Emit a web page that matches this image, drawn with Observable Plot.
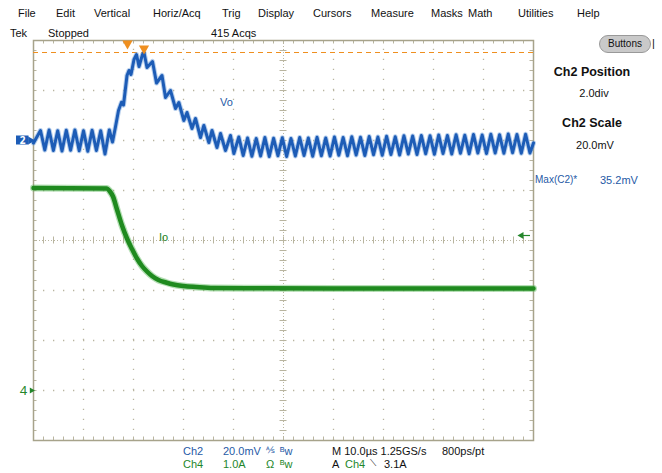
<!DOCTYPE html>
<html>
<head>
<meta charset="utf-8">
<script src="https://cdn.jsdelivr.net/npm/d3@7"></script>
<script src="https://cdn.jsdelivr.net/npm/@observablehq/plot@0.6"></script>
<style>
  html, body { margin: 0; padding: 0; background: #fff; }
  #wrap { position: relative; width: 662px; height: 473px; overflow: hidden; background: #fff;
          font-family: "Liberation Sans", Arial, sans-serif; font-size: 11px; color: #111; }
  #wrap svg { position: absolute; left: 0; top: 0; }
  .t { position: absolute; white-space: nowrap; line-height: 1; }
  .b { font-weight: bold; font-size: 12.5px; }
  .c { transform: translateX(-50%); }
  .blue { color: #1f5aa6; }
  .green { color: #23862a; }
  #btn { position: absolute; left: 599px; top: 35px; width: 50px; height: 16px; border-radius: 9px;
         background: #c9c9c9; border: 1px solid #999; font-size: 10px; text-align: center; line-height: 16px; }
</style>
</head>
<body>
<div id="wrap"></div>
<script>
// ---- Scope settings ----
const timePerDiv = 10;          // µs/div
const ch2Scale = 20;            // mV/div
const ch2Position = 2.0;        // div
const ch4Scale = 1.0;           // A/div
const ch4Position = -3.0;       // div
const triggerLevel = 3.1;       // A (Ch4, falling)
const triggerTime = 18.8;       // µs from left edge
const maxC2 = 35.2;             // mV
const maxC2Time = 22.1;         // µs

// ---- Ch2 Vo (mV) ----
const voTime = [0.0,1.4,2.26,3.12,3.98,4.84,5.7,6.56,7.42,8.28,9.14,10.0,10.86,11.72,12.58,13.44,14.3,15.16,15.8,
  16.4,17.0,17.6,18.0,18.7,19.1,19.5,20.1,20.6,21.1,21.8,22.1,22.7,23.8,24.6,25.7,26.4,27.4,28.4,29.07,30.07,30.7,
  31.7,32.4,33.4,34.07,35.07,35.7,36.7,37.4,38.4,39.4,40.07,41.07,
  41.94,42.81,43.68,44.55,45.42,46.28,47.15,48.02,48.89,49.76,50.63,51.5,52.37,53.24,54.11,54.97,55.84,56.71,57.58,
  58.45,59.32,60.19,61.06,61.93,62.8,63.66,64.53,65.4,66.27,67.14,68.01,68.88,69.75,70.62,71.49,72.35,73.22,74.09,
  74.96,75.83,76.7,77.57,78.44,79.31,80.18,81.04,81.91,82.78,83.65,84.52,85.39,86.26,87.13,88.0,88.87,89.73,90.6,
  91.47,92.34,93.21,94.08,94.95,95.82,96.69,97.56,98.42,99.29,100.0];
const voValue = [-1.0,4.0,-3.8,4.2,-4.0,3.9,-4.2,4.1,-3.9,4.2,-4.1,3.9,-4.3,4.1,-4.0,3.9,-5.4,4.2,-0.6,
  5.5,12.0,15.3,14.2,26.0,28.0,26.4,32.4,34.4,29.6,34.4,35.2,29.2,31.6,23.0,26.0,17.2,20.0,12.8,15.2,8.0,11.2,
  4.8,8.8,1.2,6.0,-0.8,4.0,-2.8,2.8,-4.0,2.0,-5.2,1.4,
  -6.0,1.0,-6.3,0.8,-6.2,1.2,-6.4,0.9,-6.1,1.1,-6.4,0.8,-6.2,1.2,-6.0,1.0,-6.3,1.3,-6.1,
  1.0,-6.2,1.4,-5.9,1.2,-6.1,1.5,-5.8,1.3,-6.0,1.6,-5.7,1.4,-5.9,1.7,-5.6,1.5,-5.8,1.9,
  -5.4,1.8,-5.6,2.0,-5.3,1.9,-5.5,2.2,-5.2,2.0,-5.4,2.3,-5.1,2.1,-5.3,2.4,-5.0,2.2,-5.2,
  2.5,-5.0,2.3,-5.1,2.6,-4.9,2.4,-5.1,2.5,-5.0,-1.0];

// ---- Ch4 Io (A) ----
const ioTime  = [0,14.6,15.3,15.9,16.7,17.7,18.7,19.7,20.7,21.7,22.7,23.7,25.0,26.5,28.0,30.0,32.5,36.0,45,60,80,100];
const ioValue = [4.05,4.04,3.98,3.88,3.62,3.30,3.04,2.83,2.64,2.49,2.38,2.29,2.21,2.16,2.12,2.09,2.07,2.05,2.045,2.04,2.04,2.04];

// ---- trace labels ----
const labelText = ["Vo", "Io"];
const labelTime = [38.6, 26.0];
const labelDiv  = [2.76, 0.06];

const ch2Div = mv => mv / ch2Scale + ch2Position;
const ch4Div = a => a / ch4Scale + ch4Position;
const vo = voTime.map((t, i) => ({t: t, v: ch2Div(voValue[i])}));
const io = ioTime.map((t, i) => ({t: t, v: ch4Div(ioValue[i])}));
const labels = labelText.map((s, i) => ({s, t: labelTime[i], v: labelDiv[i], c: i === 0 ? "#1f5aa6" : "#23862a"}));

const span = timePerDiv * 10;
const majorX = d3.range(timePerDiv, span, timePerDiv).filter(d => d !== span / 2);
const majorY = [-3, -2, -1, 1, 2, 3];
const minorX = d3.range(2, span, 2);
const minorY = d3.range(-19, 20).map(d => d / 5).filter(d => Math.abs(d) < 4);
const grid = "#b9b5a0";
const orange = "#ef8f1f";

const chart = Plot.plot({
  width: 662, height: 473,
  marginLeft: 33, marginRight: 129, marginTop: 40, marginBottom: 33,
  x: {domain: [0, span], axis: null},
  y: {domain: [-4, 4], axis: null},
  style: {background: "transparent", overflow: "visible"},
  marks: [
    Plot.ruleX(majorX, {y1: -4, y2: 4, stroke: grid, strokeWidth: 1.3, strokeDasharray: "1.3,8.7"}),
    Plot.ruleY(majorY, {x1: 0, x2: span, stroke: grid, strokeWidth: 1.3, strokeDasharray: "1.3,8.7"}),
    Plot.ruleX([span / 2], {y1: -4, y2: 4, stroke: grid, strokeWidth: 1, strokeDasharray: "1,2"}),
    Plot.ruleY([0], {x1: 0, x2: span, stroke: grid, strokeWidth: 1, strokeDasharray: "1,2"}),
    Plot.ruleX(minorX, {y1: -0.07, y2: 0.07, stroke: grid}),
    Plot.ruleY(minorY, {x1: span / 2 - 0.7, x2: span / 2 + 0.7, stroke: grid}),
    Plot.ruleX(minorX, {y1: 4, y2: 3.93, stroke: grid}),
    Plot.ruleX(minorX, {y1: -4, y2: -3.93, stroke: grid}),
    Plot.ruleY(minorY, {x1: 0, x2: 0.7, stroke: grid}),
    Plot.ruleY(minorY, {x1: span, x2: span - 0.7, stroke: grid}),
    Plot.frame({stroke: "#a7a38b", strokeWidth: 1.5}),
    // max cursor
    Plot.ruleY([maxC2], {y: d => ch2Div(d), x1: 0, x2: span, stroke: orange, strokeWidth: 1.2, strokeDasharray: "5,4"}),
    // Io trace
    Plot.line(io, {x: "t", y: "v", curve: "monotone-x", stroke: "#5cb85c", strokeWidth: 7, strokeOpacity: 0.45}),
    Plot.line(io, {x: "t", y: "v", curve: "monotone-x", stroke: "#1f8a1f", strokeWidth: 4.5}),
    // Vo trace
    Plot.line(vo, {x: "t", y: "v", stroke: "#6f9fdc", strokeWidth: 5, strokeOpacity: 0.5, strokeLinejoin: "round"}),
    Plot.line(vo, {x: "t", y: "v", stroke: "#1d5cb6", strokeWidth: 3, strokeLinejoin: "round"}),
    // labels
    Plot.text(labels, {x: "t", y: "v", text: "s", fill: "c", fontSize: 11, fontFamily: "Liberation Sans, Arial, sans-serif"}),
    // trigger position and max markers
    Plot.dot([triggerTime], {x: d => d, frameAnchor: "top", dy: 3, symbol: "triangle", rotate: 180, r: 3.8, fill: orange}),
    Plot.dot([maxC2Time], {x: d => d, y: () => ch2Div(maxC2), dy: -4, symbol: "triangle", rotate: 180, r: 3.8, fill: orange}),
    // Ch2 ground marker
    Plot.rect([ch2Position], {y1: d => d - 0.09, y2: d => d + 0.09, x1: -3.4, x2: -0.9, fill: "#1d5cb6"}),
    Plot.dot([ch2Position], {x: 0, y: d => d, dx: -3, symbol: "triangle", rotate: 90, r: 3, fill: "#1d5cb6"}),
    Plot.text([ch2Position], {x: 0, y: d => d, dx: -11, text: () => "2", fill: "white", fontWeight: "bold", fontSize: 10}),
    // Ch4 ground marker
    Plot.text([ch4Position], {x: 0, y: d => d, dx: -10, text: () => "4", fill: "#23862a", fontSize: 13}),
    Plot.dot([ch4Position], {x: 0, y: d => d, dx: -2, symbol: "triangle", rotate: 90, r: 2.2, fill: "#23862a"}),
    // trigger level marker
    Plot.ruleY([triggerLevel], {y: d => ch4Div(d), x1: span - 2.4, x2: span - 0.6, stroke: "#23862a", strokeWidth: 1.2}),
    Plot.dot([triggerLevel], {x: span, y: d => ch4Div(d), dx: -12, symbol: "triangle", rotate: -90, r: 2.6, fill: "#23862a"})
  ]
});

const wrap = document.getElementById("wrap");
wrap.appendChild(chart);

// ---- UI text ----
const menu = ["File","Edit","Vertical","Horiz/Acq","Trig","Display","Cursors","Measure","Masks","Math","Utilities","Help"];
const menuX = [18,56,94,153,222,258,313,371,431,468,518,577];
const items = [];
menu.forEach((m, i) => items.push({s: m, x: menuX[i], y: 8}));
items.push({s: "Tek", x: 10, y: 28}, {s: "Stopped", x: 48, y: 28}, {s: "415 Acqs", x: 211, y: 28});
items.push({s: "Ch2 Position", x: 592, y: 66, cls: "b c"}, {s: "2.0div", x: 594, y: 88, cls: "c"});
items.push({s: "Ch2 Scale", x: 592, y: 117, cls: "b c"}, {s: "20.0mV", x: 595, y: 140, cls: "c"});
items.push({s: "Max(C2)*", x: 535, y: 175, cls: "blue", fs: 10}, {s: "35.2mV", x: 600, y: 175, cls: "blue"});
items.push({s: "Ch2", x: 183, y: 446, cls: "blue"}, {s: "20.0mV", x: 223, y: 446, cls: "blue"},
           {s: "⅍", x: 266, y: 446, cls: "blue", fs: 9}, {s: "ᴮw", x: 280, y: 446, cls: "blue"});
items.push({s: "Ch4", x: 183, y: 459, cls: "green"}, {s: "1.0A", x: 223, y: 459, cls: "green"},
           {s: "Ω", x: 266, y: 459, cls: "green"}, {s: "ᴮw", x: 280, y: 459, cls: "green"});
items.push({s: "M 10.0µs 1.25GS/s", x: 332, y: 446}, {s: "800ps/pt", x: 442, y: 446});
items.push({s: "A", x: 332, y: 459}, {s: "Ch4", x: 345, y: 459, cls: "green"}, {s: "⟍", x: 370, y: 459, fs: 9}, {s: "3.1A", x: 384, y: 459});
items.forEach(it => {
  const e = document.createElement("div");
  e.className = "t " + (it.cls || "");
  e.textContent = it.s;
  e.style.left = it.x + "px";
  e.style.top = it.y + "px";
  if (it.fs) e.style.fontSize = it.fs + "px";
  wrap.appendChild(e);
});
const btn = document.createElement("div");
btn.id = "btn"; btn.textContent = "Buttons";
wrap.appendChild(btn);
const bar = document.createElement("div");
bar.className = "t"; bar.textContent = "|"; bar.style.left = "652px"; bar.style.top = "38px";
wrap.appendChild(bar);
</script>
</body>
</html>
